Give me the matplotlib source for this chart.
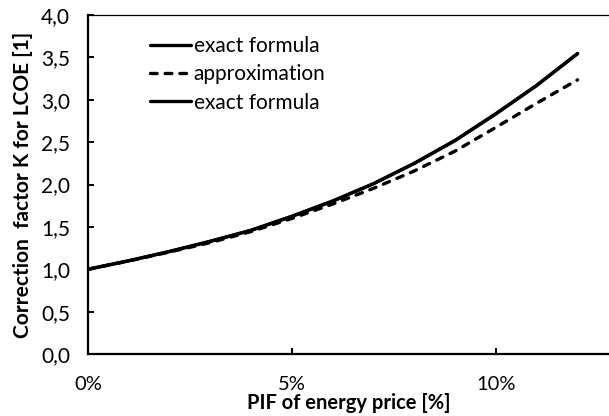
import matplotlib
matplotlib.use("Agg")
import matplotlib.pyplot as plt
from matplotlib.ticker import FuncFormatter, MultipleLocator

plt.rcParams['font.family'] = ['Lato', 'DejaVu Sans']

pif = [0.00, 0.01, 0.02, 0.03, 0.04, 0.05, 0.06, 0.07, 0.08, 0.09, 0.10, 0.11, 0.12]
k_exact = [1.000, 1.100, 1.210, 1.330, 1.460, 1.625, 1.805, 2.010, 2.250, 2.520, 2.835, 3.170, 3.545]
k_approx = [1.000, 1.098, 1.203, 1.315, 1.445, 1.600, 1.770, 1.955, 2.160, 2.395, 2.675, 2.960, 3.235]
legend_labels = ["exact formula", "approximation", "exact formula"]

fig = plt.figure(figsize=(6.09, 4.16), dpi=100)
ax = fig.add_axes([88 / 609, 62 / 416, 1 - 88 / 609, 339 / 416])

LW = 2.4
l1, = ax.plot(pif, k_exact, color='black', lw=LW, solid_capstyle='round', solid_joinstyle='round')
l2, = ax.plot(pif, k_approx, color='black', lw=LW, dashes=(2.0, 2.4), dash_capstyle='round')
l3, = ax.plot(pif, k_exact, color='black', lw=LW, solid_capstyle='round', solid_joinstyle='round')

ax.set_xlim(0, 0.1277)
ax.set_ylim(0, 4.0)
ax.xaxis.set_major_locator(MultipleLocator(0.05))
ax.yaxis.set_major_locator(MultipleLocator(0.5))
ax.xaxis.set_major_formatter(FuncFormatter(lambda v, p: f"{v*100:.0f}%"))
ax.yaxis.set_major_formatter(FuncFormatter(lambda v, p: f"{v:.1f}".replace('.', ',')))

ax.tick_params(axis='both', direction='in', length=4, width=1.4, colors='black')
ax.tick_params(axis='x', pad=15.5, top=False, labelsize=14.5)
ax.tick_params(axis='y', pad=13, right=False, labelsize=15)

ax.spines['right'].set_visible(False)
ax.spines['left'].set_linewidth(1.6)
ax.spines['bottom'].set_linewidth(1.6)
ax.spines['top'].set_linewidth(0.9)

ax.set_xlabel("PIF of energy price [%]", fontsize=14.5, fontweight='bold', labelpad=0.3)
ax.set_ylabel("Correction  factor K for LCOE [1]", fontsize=15, fontweight='bold', labelpad=6)

leg = ax.legend([l1, l2, l3], legend_labels, loc='upper left', bbox_to_anchor=(0.119, 0.938),
                frameon=False, fontsize=15, handlelength=1.95, handletextpad=0.15,
                labelspacing=0.4, borderaxespad=0, borderpad=0)

fig.savefig("out.png", dpi=100)
